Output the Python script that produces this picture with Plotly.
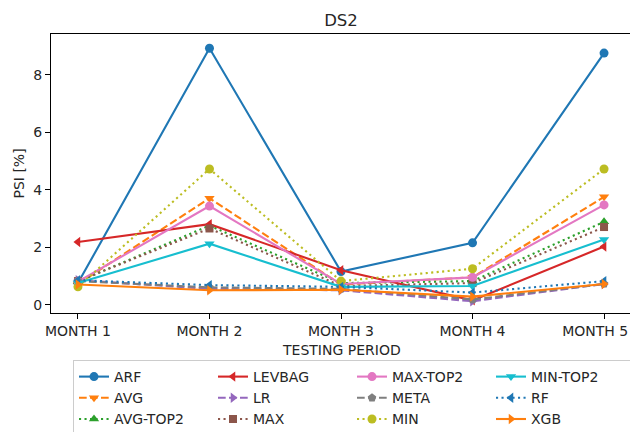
import plotly.graph_objects as go

months = ["MONTH 1", "MONTH 2", "MONTH 3", "MONTH 4", "MONTH 5"]
y_ticks = [0, 2, 4, 6, 8]

ARF = [0.75, 8.92, 1.15, 2.15, 8.75]
AVG = [0.72, 3.70, 0.70, 0.95, 3.75]
AVG_TOP2 = [0.80, 2.75, 0.75, 0.82, 2.88]
LEVBAG = [2.18, 2.80, 1.20, 0.15, 2.02]
LR = [0.85, 0.55, 0.50, 0.12, 0.72]
MAX = [0.82, 2.65, 0.65, 0.75, 2.70]
MAX_TOP2 = [0.80, 3.43, 0.72, 0.95, 3.47]
META = [0.82, 0.60, 0.55, 0.18, 0.72]
MIN = [0.62, 4.72, 0.82, 1.25, 4.72]
MIN_TOP2 = [0.75, 2.12, 0.62, 0.65, 2.27]
RF = [0.85, 0.68, 0.62, 0.42, 0.82]
XGB = [0.70, 0.50, 0.52, 0.28, 0.72]

DASH = "7.7px,3.3px"
DOT = "2.1px,3.4px"

series = [
    ("ARF", ARF, "#1f77b4", "solid", "circle"),
    ("AVG", AVG, "#ff7f0e", DASH, "triangle-down"),
    ("AVG-TOP2", AVG_TOP2, "#2ca02c", DOT, "triangle-up"),
    ("LEVBAG", LEVBAG, "#d62728", "solid", "triangle-left"),
    ("LR", LR, "#9467bd", DASH, "triangle-right"),
    ("MAX", MAX, "#8c564b", DOT, "square"),
    ("MAX-TOP2", MAX_TOP2, "#e377c2", "solid", "circle"),
    ("META", META, "#7f7f7f", DASH, "pentagon"),
    ("MIN", MIN, "#bcbd22", DOT, "circle"),
    ("MIN-TOP2", MIN_TOP2, "#17becf", "solid", "triangle-down"),
    ("RF", RF, "#1f77b4", DOT, "triangle-left"),
    ("XGB", XGB, "#ff7f0e", "solid", "triangle-right"),
]

fig = go.Figure()
nrows = 3
for i, (name, vals, color, dash, sym) in enumerate(series):
    col, row = divmod(i, nrows)
    rank = row * 4 + col + 1
    fig.add_trace(go.Scatter(
        x=months, y=vals, name=name, mode="lines+markers",
        line=dict(color=color, width=2.1, dash=dash),
        marker=dict(symbol=sym, size=9 if sym != "square" else 8, color=color,
                    line=dict(width=0)),
        legendrank=rank,
    ))

# page has an 8px body margin: figure origin is at page (8, 8)
OFF = 8
W, H = 638 - OFF, 432 - OFF
L, T = 51 - OFF, 34 - OFF
R = W - (631 - OFF)
B = H - (313 - OFF)
PW, PH = W - L - R, H - T - B

# keep the last tick label inside the visible page (trailing padding nudges it left)
tick_text = months[:-1] + [months[-1] + "&nbsp;" * 4]

FONT = "DejaVu Sans"
fig.update_layout(
    width=W, height=H,
    margin=dict(l=L, r=R, t=T, b=B, autoexpand=False),
    paper_bgcolor="white", plot_bgcolor="white",
    font=dict(family=FONT, size=14, color="#262626"),
    title=dict(text="DS2", x=0.5, xref="paper", y=1 - (20 - OFF) / H, yref="container",
               xanchor="center", yanchor="middle",
               font=dict(family=FONT, size=16.5, color="#262626")),
    showlegend=True,
    legend=dict(
        orientation="h", x=(73 - 51) / PW, y=(313 - 360) / PH, xanchor="left", yanchor="top",
        xref="paper", yref="paper",
        bordercolor="#cccccc", borderwidth=1, bgcolor="white",
        entrywidth=94, entrywidthmode="pixels",
        font=dict(family=FONT, size=14, color="#262626"),
        tracegroupgap=0, itemwidth=30,
    ),
    annotations=[
        dict(text="TESTING PERIOD", x=0.5, y=(313 - 350) / PH, xref="paper", yref="paper",
             showarrow=False, xanchor="center", yanchor="middle",
             font=dict(family=FONT, size=14, color="#262626")),
        dict(text="PSI [%]", x=(18 - 51) / PW, y=0.5, xref="paper", yref="paper",
             showarrow=False, xanchor="center", yanchor="middle", textangle=-90,
             font=dict(family=FONT, size=14, color="#262626")),
    ],
)
fig.update_xaxes(
    type="category", range=[-0.205, 4.205], showgrid=False, zeroline=False,
    tickvals=months, ticktext=tick_text,
    showline=True, linecolor="black", linewidth=1, mirror=True,
    ticks="outside", ticklen=5, tickcolor="black", tickwidth=1,
    tickfont=dict(family=FONT, size=14, color="#262626"),
)
fig.update_yaxes(
    range=[-0.29, 9.415], tickvals=y_ticks, ticktext=[str(v) for v in y_ticks],
    showgrid=False, zeroline=False,
    showline=True, linecolor="black", linewidth=1, mirror=True,
    ticks="outside", ticklen=5, tickcolor="black", tickwidth=1,
    tickfont=dict(family=FONT, size=14, color="#262626"),
)

fig.write_html("out.html")
